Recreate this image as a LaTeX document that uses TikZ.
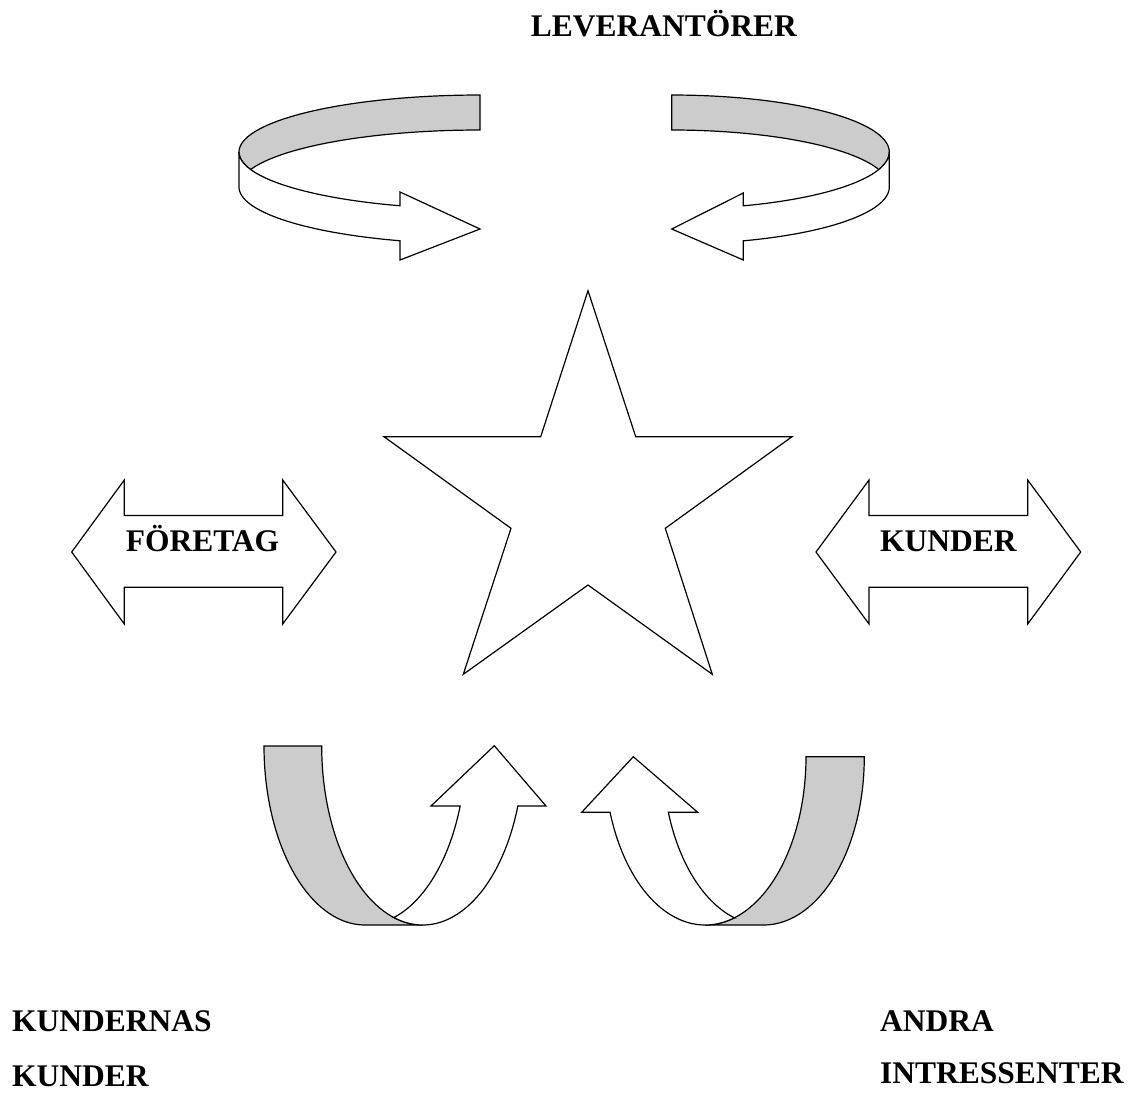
\documentclass[tikz,border=0pt]{standalone}
\usepackage{fontspec}
\setmainfont{Liberation Serif}
\definecolor{bandgray}{RGB}{204,204,204}
\begin{document}
\begin{tikzpicture}[x=1pt,y=-1pt,
  shp/.style={draw=black,line width=1.2pt,line join=miter},
  backband/.style={shp,fill=bandgray},
  frontband/.style={shp,fill=white},
  lbl/.style={inner sep=0pt,font=\fontsize{31.5}{38}\selectfont\bfseries}]
\useasboundingbox (0,0) rectangle (1133,1093);

% ---- top-left curved arrow
\path[backband] plot[domain=270:162.12,samples=50] ({480+241*cos(\x)},{152+57*sin(\x)})
  -- plot[domain=197.88:270,samples=50] ({480+241*cos(\x)},{187+57*sin(\x)}) -- cycle;
\path[frontband] plot[domain=180:109.39,samples=50] ({480+241*cos(\x)},{152+57*sin(\x)})
  -- (400,192) -- (480,229) -- (400,260)
  -- plot[domain=109.39:180,samples=50] ({480+241*cos(\x)},{187+57*sin(\x)}) -- cycle;

% ---- top-right curved arrow
\path[backband] plot[domain=-90:17.88,samples=50] ({671.7+217.6*cos(\x)},{152+57*sin(\x)})
  -- plot[domain=-17.88:-90,samples=50] ({671.7+217.6*cos(\x)},{187+57*sin(\x)}) -- cycle;
\path[frontband] plot[domain=0:70.8,samples=50] ({671.7+217.6*cos(\x)},{152+57*sin(\x)})
  -- (743.3,193) -- (671.7,229) -- (743.3,260)
  -- plot[domain=70.8:0,samples=50] ({671.7+217.6*cos(\x)},{187+57*sin(\x)}) -- cycle;

% ---- star
\path[shp,fill=white] (588,290.7) -- (635.7,436.7) -- (792,436.7) -- (665.3,528.3)
  -- (712.3,674.3) -- (588,585) -- (463.3,674.3) -- (511,528.3) -- (384,436.7)
  -- (540.7,436.7) -- cycle;

% ---- double arrows
\path[shp,fill=white] (71.7,552) -- (124.3,480) -- (124.3,515.5) -- (282.7,515.5)
  -- (282.7,480) -- (336,552) -- (282.7,624) -- (282.7,587.3) -- (124.3,587.3)
  -- (124.3,624) -- cycle;
\path[shp,fill=white] (816,552) -- (869,480) -- (869,515.5) -- (1027.7,515.5)
  -- (1027.7,480) -- (1080.7,552) -- (1027.7,624) -- (1027.7,587.3) -- (869,587.3)
  -- (869,624) -- cycle;

% ---- bottom-left curved arrow
\path[backband] plot[domain=180:90,samples=60] ({365+101*cos(\x)},{746+179*sin(\x)})
  -- (422.7,925)
  -- plot[domain=90:180,samples=60] ({422.7+101*cos(\x)},{746+179*sin(\x)}) -- cycle;
\path[frontband] plot[domain=73.4:19.6,samples=60] ({365+101*cos(\x)},{746+179*sin(\x)})
  -- (431,806) -- (494.3,745.7) -- (546,806)
  -- plot[domain=19.6:106.6,samples=60] ({422.7+101*cos(\x)},{746+179*sin(\x)}) -- cycle;

% ---- bottom-right curved arrow
\path[backband] plot[domain=0:90,samples=60] ({763.5+100.8*cos(\x)},{756.7+168.3*sin(\x)})
  -- (705.2,925)
  -- plot[domain=90:0,samples=60] ({705.2+100.8*cos(\x)},{756.7+168.3*sin(\x)}) -- cycle;
\path[frontband] plot[domain=106.8:160.7,samples=60] ({763.5+100.8*cos(\x)},{756.7+168.3*sin(\x)})
  -- (697.7,812.3) -- (633.3,756.7) -- (581.7,812.3)
  -- plot[domain=160.7:73.2,samples=60] ({705.2+100.8*cos(\x)},{756.7+168.3*sin(\x)}) -- cycle;

% ---- labels
\node[lbl,anchor=base] (lev) at (663.8,36.7) {LEVERANTÖRER};
\node[lbl,anchor=base] (foretag) at (202.5,551.7) {FÖRETAG};
\node[lbl,anchor=base] (kunder) at (948.3,551.7) {KUNDER};
\node[lbl,anchor=base west] (kk1) at (12,1031.7) {KUNDERNAS};
\node[lbl,anchor=base west] (kk2) at (12,1086.7) {KUNDER};
\node[lbl,anchor=base west] (ai1) at (880,1031.7) {ANDRA};
\node[lbl,anchor=base west] (ai2) at (880,1083) {INTRESSENTER};
\end{tikzpicture}
\end{document}
